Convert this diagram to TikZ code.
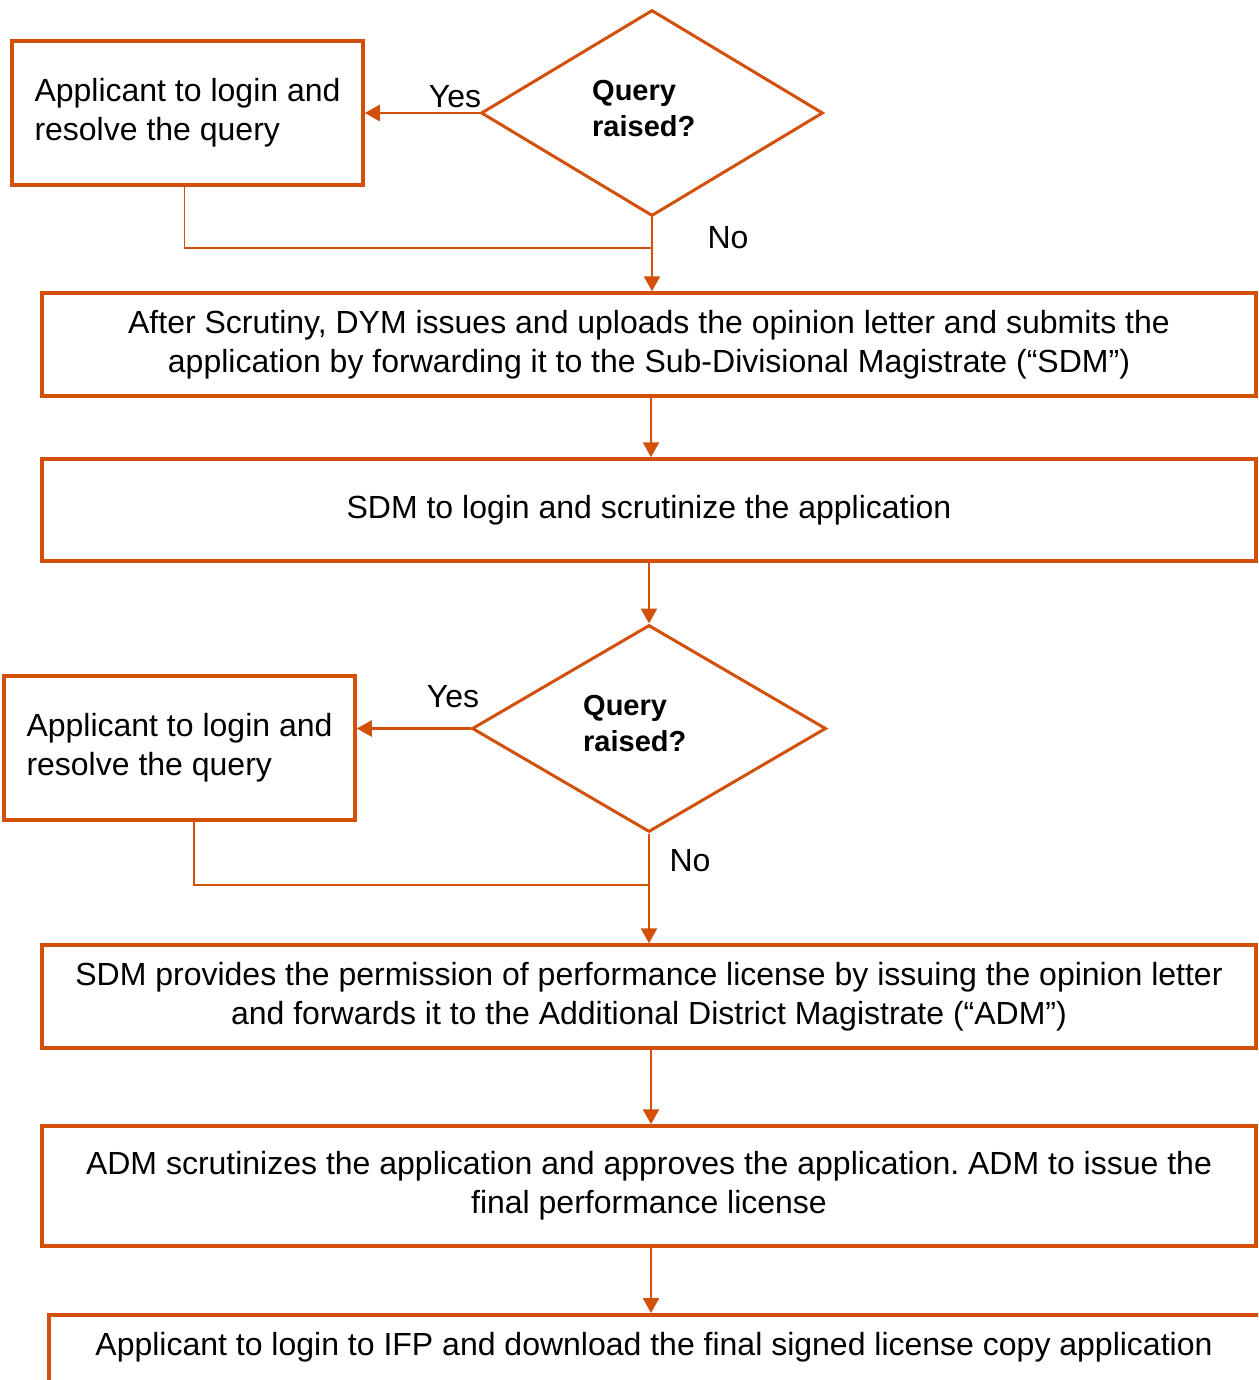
\documentclass[tikz,border=0pt]{standalone}
\usepackage{fontspec}
\setmainfont{Liberation Sans}
\usetikzlibrary{arrows.meta,shapes.geometric}
\definecolor{orng}{RGB}{210,80,10}
\tikzset{
  boxn/.style={draw=orng, line width=3.5pt, rectangle, inner sep=0pt, font=\fontsize{32}{39}\selectfont},
  dia/.style={draw=orng, line width=3pt, diamond, inner sep=0pt},
  qtxt/.style={font=\fontsize{29}{36}\selectfont\bfseries, align=left, anchor=west, inner sep=0pt},
  lbl/.style={font=\fontsize{32}{39}\selectfont, inner sep=0pt},
  arr/.style={draw=orng, line width=2.5pt, -{Triangle[width=16pt,length=15pt]}},
  fb/.style={draw=orng, line width=1.5pt}
}
\begin{document}
\frenchspacing
\begin{tikzpicture}[x=1pt,y=-1pt]
\useasboundingbox (0,0) rectangle (1258,1380);
\clip (0,0) rectangle (1258,1380);
\fill[white] (0,0) rectangle (1258,1380);
% first query
\node[boxn, minimum width=351pt, minimum height=144pt, align=left] (b1) at (187.5,113) {Applicant to login and\\resolve the query};
\node[dia, minimum width=342pt, minimum height=206pt] (d1) at (652,113) {};
\node[qtxt] (q1) at (592,109) {Query\\raised?};
\node[lbl] (y1) at (455,97) {Yes};
\node[lbl] (n1) at (728,238) {No};
\node[boxn, minimum width=1214pt, minimum height=103pt, align=center] (b2) at (649,344.5) {After Scrutiny, DYM issues and uploads the opinion letter and submits the\\application by forwarding it to the Sub-Divisional Magistrate (“SDM”)};
\coordinate (j1) at (652,248);
\draw[arr] (d1.west) -- (d1.west -| b1.east);
\draw[fb] ([xshift=-3pt]b1.south) |- (j1);
\draw[arr] (d1.south) -- (d1.south |- b2.north);
% SDM scrutiny
\node[boxn, minimum width=1214pt, minimum height=102pt, align=center] (b3) at (649,510) {SDM to login and scrutinize the application};
\draw[arr] ([xshift=2pt]b2.south) -- ([xshift=2pt]b3.north);
% second query
\node[dia, minimum width=354pt, minimum height=207pt] (d2) at (649,728.5) {};
\node[qtxt] (q2) at (583,724) {Query\\raised?};
\node[boxn, minimum width=351pt, minimum height=144pt, align=left] (b4) at (179.5,748) {Applicant to login and\\resolve the query};
\node[lbl] (y2) at (453,697) {Yes};
\node[lbl] (n2) at (690,861) {No};
\draw[arr] (b3.south) -- (d2.north);
\draw[arr] (d2.west) -- (d2.west -| b4.east);
\node[boxn, minimum width=1214pt, minimum height=103pt, align=center] (b5) at (649,996.5) {SDM provides the permission of performance license by issuing the opinion letter\\and forwards it to the Additional District Magistrate (“ADM”)};
\coordinate (j2) at (650,885);
\draw[fb] ([xshift=14.5pt]b4.south) |- (j2);
\draw[arr] (d2.south) -- (d2.south |- b5.north);
% ADM
\node[boxn, minimum width=1214pt, minimum height=120pt, align=center] (b6) at (649,1186) {ADM scrutinizes the application and approves the application. ADM to issue the\\final performance license};
\draw[arr] ([xshift=2pt]b5.south) -- ([xshift=2pt]b6.north);
% final
\node[boxn, minimum width=1230pt, minimum height=120pt, anchor=north west] (b7) at (47,1313) {};
\node[lbl] (t7) at (654,1347) {Applicant to login to IFP and download the final signed license copy application};
\draw[arr] ([xshift=2pt, yshift=3pt]b6.south) -- ([xshift=2pt]b6.south |- b7.north);
\end{tikzpicture}
\end{document}
